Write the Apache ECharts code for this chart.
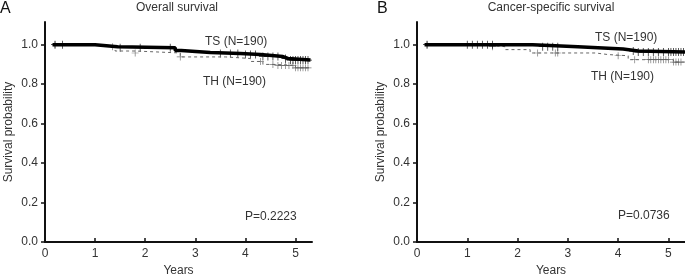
<!DOCTYPE html>
<html>
<head>
<meta charset="utf-8">
<script src="https://cdn.jsdelivr.net/npm/echarts@6/dist/echarts.min.js"></script>
<style>
  html, body { margin: 0; padding: 0; background: #fff; }
  #main { width: 685px; height: 275px; }
</style>
</head>
<body>
<div id="main"></div>
<script>
"use strict";
// Kaplan-Meier step points [years, survival]
let osTS = [[0.15, 1.0], [1.0, 0.99], [1.45, 0.985], [2.6, 0.97], [2.72, 0.96], [3.3, 0.955], [3.9, 0.95], [4.3, 0.94], [4.75, 0.93], [4.85, 0.922], [5.3, 0.922]];
let osTH = [[0.15, 1.0], [0.9, 0.99], [1.4, 0.968], [1.8, 0.958], [2.7, 0.938], [3.6, 0.93], [4.1, 0.915], [4.35, 0.9], [4.6, 0.895], [5.0, 0.883], [5.3, 0.883]];
let cssTS = [[0.15, 1.0], [2.3, 0.99], [3.2, 0.985], [3.6, 0.978], [4.1, 0.968], [4.4, 0.963], [5.33, 0.963]];
let cssTH = [[0.15, 1.0], [1.3, 0.99], [1.75, 0.975], [2.25, 0.958], [3.55, 0.95], [3.8, 0.944], [4.2, 0.924], [5.1, 0.912], [5.33, 0.912]];

// censored times
let osTScens = [0.2, 0.35, 1.5, 1.9, 2.5, 3.5, 3.7, 3.85, 4.0, 4.1, 4.2, 4.35, 4.45, 4.55, 4.65, 4.8, 4.9, 4.95, 5.0, 5.05, 5.1, 5.15, 5.2, 5.25];
let osTHcens = [0.2, 1.35, 1.8, 2.7, 4.3, 4.55, 4.65, 4.72, 4.8, 4.87, 4.95, 5.0, 5.05, 5.1, 5.15, 5.2, 5.25];
let cssTScens = [0.2, 1.0, 1.1, 1.2, 1.3, 1.4, 1.5, 2.5, 2.6, 2.7, 2.8, 4.3, 4.4, 4.5, 4.6, 4.7, 4.8, 4.9, 5.0, 5.05, 5.1, 5.15, 5.2, 5.25, 5.3];
let cssTHcens = [0.2, 1.5, 2.4, 2.75, 2.8, 4.0, 4.33, 4.6, 4.65, 4.7, 4.75, 4.8, 4.85, 4.9, 4.95, 5.0, 5.1, 5.15, 5.2, 5.25];

let xTicks = [0, 1, 2, 3, 4, 5];
let yTicks = [0, 0.2, 0.4, 0.6, 0.8, 1.0];
let titles = ['Overall survival', 'Cancer-specific survival'];
let pValues = ['P=0.2223', 'P=0.0736'];

let plus = 'path://M0,4.5L10,4.5L10,5.5L0,5.5Z M4.5,0L5.5,0L5.5,10L4.5,10Z';

function survAt(steps, t) {
    let v = steps[0][1];
    for (let i = 0; i < steps.length; i++) {
        if (steps[i][0] <= t) v = steps[i][1];
    }
    return v;
}
function censPts(steps, times) {
    return times.map(function (t) { return [t, survAt(steps, t)]; });
}

let txt = { color: '#333', fontFamily: 'Liberation Sans, Arial, sans-serif', fontSize: 12 };

function xAxis(i) {
    return {
        type: 'value', gridIndex: i, min: 0, max: 5.33, interval: 1,
        name: 'Years', nameLocation: 'middle', nameGap: 22,
        nameTextStyle: txt,
        axisLine: { lineStyle: { color: '#111', width: 2 } },
        axisTick: { inside: true, length: 4, lineStyle: { color: '#111', width: 1.5 }, customValues: xTicks },
        axisLabel: Object.assign({ margin: 6, customValues: xTicks }, txt),
        splitLine: { show: false }
    };
}
function yAxis(i) {
    return {
        type: 'value', gridIndex: i, min: 0, max: 1.115,
        name: 'Survival probability', nameLocation: 'middle', nameGap: 30,
        nameTextStyle: txt,
        axisLine: { show: true, lineStyle: { color: '#111', width: 2 } },
        axisTick: { show: true, length: 4, lineStyle: { color: '#111', width: 1.5 }, customValues: yTicks },
        axisLabel: Object.assign({ margin: 7, customValues: yTicks, formatter: function (v) { return v.toFixed(1); } }, txt),
        splitLine: { show: false }
    };
}
function curve(i, steps, dashed) {
    return {
        type: 'line', xAxisIndex: i, yAxisIndex: i, step: 'end', data: steps,
        showSymbol: false, silent: true,
        lineStyle: dashed ? { color: '#666', width: 1, type: [3, 3] } : { color: '#000', width: 3.5 }
    };
}
function marks(i, steps, times, dashed) {
    return {
        type: 'scatter', xAxisIndex: i, yAxisIndex: i, data: censPts(steps, times),
        symbol: plus, symbolSize: dashed ? 7 : 8, silent: true,
        itemStyle: { color: dashed ? '#555' : '#000' }
    };
}

let myChart = echarts.init(document.getElementById('main'));
let option = {
    animation: false,
    grid: [
        { left: 45, right: 373, top: 22, bottom: 33, outerBoundsMode: 'none' },
        { left: 417, right: 0, top: 22, bottom: 33, outerBoundsMode: 'none' }
    ],
    xAxis: [xAxis(0), xAxis(1)],
    yAxis: [yAxis(0), yAxis(1)],
    series: [
        curve(0, osTH, true), marks(0, osTH, osTHcens, true),
        curve(0, osTS, false), marks(0, osTS, osTScens, false),
        curve(1, cssTH, true), marks(1, cssTH, cssTHcens, true),
        curve(1, cssTS, false), marks(1, cssTS, cssTScens, false)
    ],
    graphic: [
        { type: 'text', left: 0, top: 1, style: Object.assign({}, txt, { text: 'A', fontSize: 16, fill: '#111' }) },
        { type: 'text', left: 377, top: 1, style: Object.assign({}, txt, { text: 'B', fontSize: 16, fill: '#111' }) },
        { type: 'text', x: 177, y: 8, style: Object.assign({}, txt, { text: titles[0], fill: '#333', align: 'center', verticalAlign: 'middle' }) },
        { type: 'text', x: 551, y: 8, style: Object.assign({}, txt, { text: titles[1], fill: '#333', align: 'center', verticalAlign: 'middle' }) },
        { type: 'text', x: 205, y: 42, style: Object.assign({}, txt, { text: 'TS (N=190)', fill: '#333', verticalAlign: 'middle' }) },
        { type: 'text', x: 203, y: 82, style: Object.assign({}, txt, { text: 'TH (N=190)', fill: '#333', verticalAlign: 'middle' }) },
        { type: 'text', x: 245, y: 217, style: Object.assign({}, txt, { text: pValues[0], fill: '#333', verticalAlign: 'middle' }) },
        { type: 'text', x: 595, y: 38, style: Object.assign({}, txt, { text: 'TS (N=190)', fill: '#333', verticalAlign: 'middle' }) },
        { type: 'text', x: 591, y: 77, style: Object.assign({}, txt, { text: 'TH (N=190)', fill: '#333', verticalAlign: 'middle' }) },
        { type: 'text', x: 618, y: 216, style: Object.assign({}, txt, { text: pValues[1], fill: '#333', verticalAlign: 'middle' }) }
    ]
};
myChart.setOption(option);
</script>
</body>
</html>
